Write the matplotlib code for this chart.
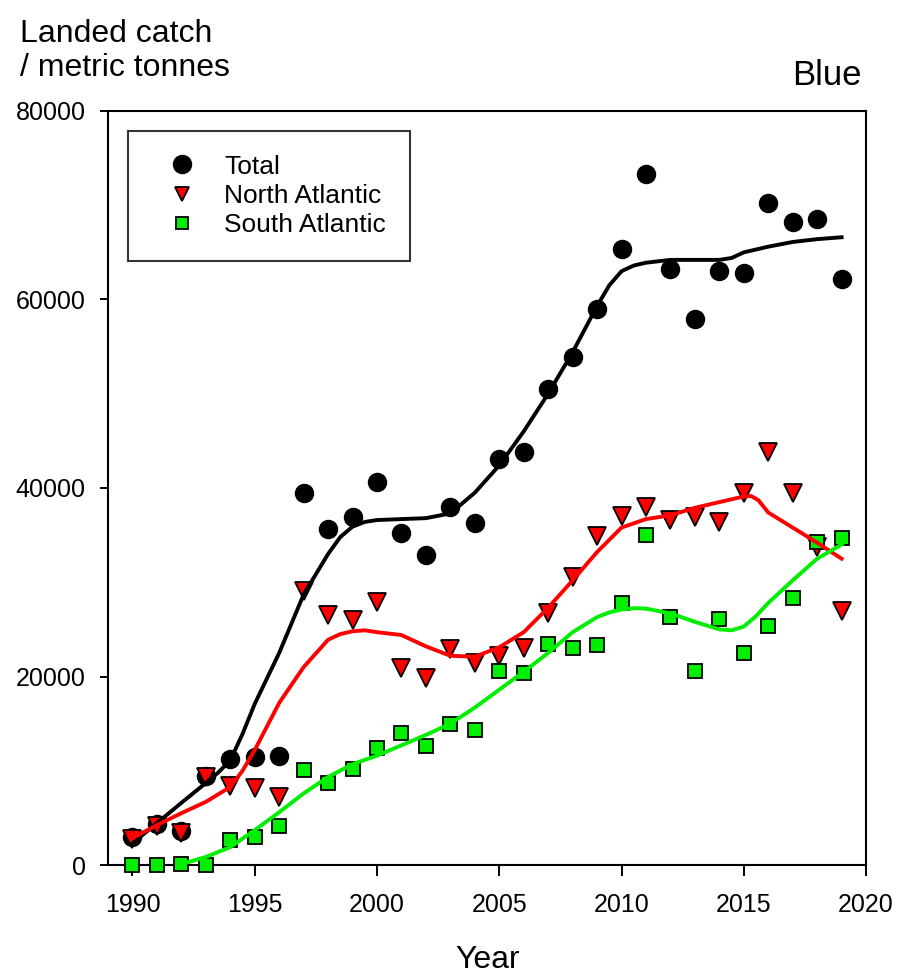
import matplotlib
matplotlib.use("Agg")
import matplotlib.pyplot as plt
from matplotlib.lines import Line2D

plt.rcParams['font.family'] = ['Liberation Sans', 'DejaVu Sans']

# landed catch (tonnes)
years = list(range(1990, 2020))
total = [2970, 4350, 3600, 9440, 11250, 11460, 11570, 39500, 35600, 36900,
         40600, 35200, 32900, 38000, 36300, 43100, 43800, 50500, 53900, 59000,
         65400, 73300, 63200, 57900, 63000, 62800, 70200, 68200, 68500, 62200]
north = [2760, 4140, 3400, 9340, 8380, 8170, 7220, 29100, 26500, 26000,
         27900, 20900, 19800, 22900, 21400, 22200, 23000, 26700, 30600, 34900,
         37000, 38000, 36600, 36900, 36400, 39500, 43800, 39500, 33700, 27000]
south = [0, 0, 100, 0, 2650, 2970, 4140, 10080, 8700, 10190,
         12400, 14000, 12600, 15000, 14300, 20600, 20400, 23400, 23000, 23300,
         27800, 35000, 26300, 20600, 26100, 22500, 25400, 28300, 34300, 34700]

# smoothed trend lines (extra readings where they bend)
total_fit_x = [1990, 1991, 1992, 1993, 1993.5, 1994, 1994.5, 1995, 1996, 1997, 1998,
               1998.5, 1999, 1999.5, 2000, 2001, 2002, 2003, 2004, 2005, 2006, 2007,
               2008, 2009, 2009.5, 2010, 2010.5, 2011, 2012, 2013, 2014, 2014.5, 2015,
               2016, 2017, 2018, 2019]
total_fit = [2300, 4450, 6600, 8700, 9800, 11100, 13900, 17100, 22500, 28700, 33000,
             34800, 35900, 36400, 36600, 36700, 36800, 37300, 39500, 42400, 46000, 50000,
             54400, 59300, 61500, 63000, 63600, 63900, 64200, 64200, 64200, 64400, 65000,
             65600, 66100, 66400, 66600]
north_fit_x = [1990, 1991, 1992, 1993, 1994, 1994.5, 1995, 1996, 1997, 1998, 1998.5,
               1999, 1999.5, 2000, 2001, 2002, 2003, 2004, 2005, 2006, 2007, 2008,
               2009, 2010, 2011, 2012, 2013, 2014, 2015, 2015.3, 2015.6, 2016, 2017,
               2018, 2019]
north_fit = [2860, 4240, 5500, 6700, 8280, 10000, 12200, 17200, 21000, 23900, 24500,
             24800, 24900, 24700, 24400, 23200, 22200, 22100, 23100, 24700, 27300, 30200,
             33200, 35800, 36700, 37100, 37900, 38500, 39100, 39150, 38700, 37400, 35800,
             34200, 32500]
south_fit_x = [1992, 1993, 1994, 1995, 1996, 1997, 1998, 1999, 2000, 2001, 2002,
               2003, 2004, 2005, 2006, 2007, 2008, 2009, 2009.5, 2010, 2010.5, 2011,
               2012, 2013, 2014, 2014.5, 2015, 2015.5, 2016, 2017, 2018, 2019]
south_fit = [100, 850, 1900, 3700, 5600, 7600, 9340, 10700, 11600, 12700, 13800,
             15000, 16700, 18600, 20500, 22500, 24700, 26300, 26800, 27100, 27250, 27200,
             26700, 25800, 25000, 24900, 25300, 26400, 27800, 30200, 32500, 34000]

fig = plt.figure(figsize=(8.98, 9.75), dpi=100)
ax = fig.add_axes([0.1203, 0.1128, 0.8441, 0.7734])

ax.plot(years, total, 'o', color='black', markersize=13, clip_on=False, zorder=3)
ax.plot(years, north, 'v', color='red', markeredgecolor='black', markersize=13,
        markeredgewidth=1.3, clip_on=False, zorder=3)
ax.plot(years, south, 's', color='#00ee00', markeredgecolor='black', markersize=10.5,
        markeredgewidth=1.3, clip_on=False, zorder=3)

ax.plot(total_fit_x, total_fit, color='black', linewidth=2.8, zorder=4)
ax.plot(north_fit_x, north_fit, color='red', linewidth=2.8, zorder=4)
ax.plot(south_fit_x, south_fit, color='#00ee00', linewidth=2.8, zorder=4)

ax.set_xlim(1989, 2020)
ax.set_ylim(0, 80000)
ax.set_xticks([1990, 1995, 2000, 2005, 2010, 2015, 2020])
ax.set_yticks([0, 20000, 40000, 60000, 80000])
ax.tick_params(axis='x', direction='out', length=8, width=1.4, labelsize=18, pad=12)
ax.tick_params(axis='y', direction='out', length=6, width=1.4, labelsize=18, pad=10)
for s in ax.spines.values():
    s.set_linewidth(1.5)

handles = [
    Line2D([], [], marker='o', linestyle='none', color='black', markersize=13),
    Line2D([], [], marker='v', linestyle='none', color='red', markeredgecolor='black',
           markersize=10, markeredgewidth=1.3),
    Line2D([], [], marker='s', linestyle='none', color='#00ee00', markeredgecolor='black',
           markersize=9, markeredgewidth=1.3),
]
leg = ax.legend(handles, ['Total', 'North Atlantic', 'South Atlantic'],
                loc='upper left', bbox_to_anchor=(0.0264, 0.9735), borderaxespad=0,
                fontsize=19, frameon=True, fancybox=False, edgecolor='black',
                borderpad=0.9, labelspacing=0.2, handlelength=2.3,
                handletextpad=0.45)
leg.get_frame().set_linewidth(1.5)

fig.text(20 / 898, 1 - 42 / 975, 'Landed catch', fontsize=23, ha='left', va='baseline')
fig.text(20 / 898, 1 - 76 / 975, '/ metric tonnes', fontsize=23, ha='left', va='baseline')
fig.text(862 / 898, 1 - 85 / 975, 'Blue', fontsize=25, ha='right', va='baseline')
fig.text(488 / 898, 0.0, 'Year', fontsize=23, ha='center', va='bottom')

fig.savefig('out.png', dpi=100)
